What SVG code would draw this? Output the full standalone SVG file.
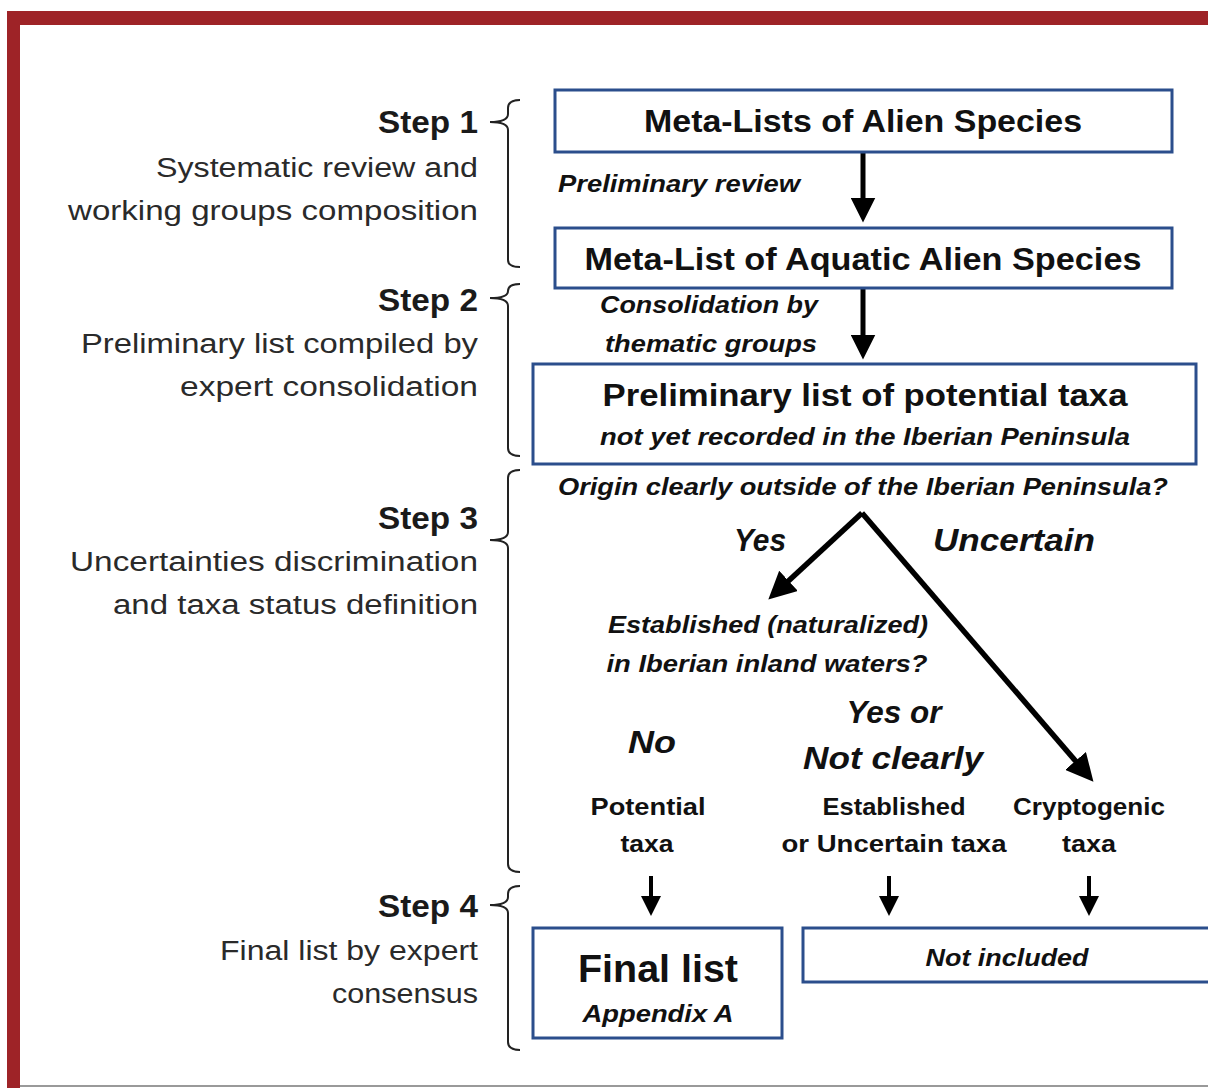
<svg xmlns="http://www.w3.org/2000/svg" width="1208" height="1088" viewBox="0 0 1208 1088">
<style>
text{font-family:"Liberation Sans",Arial,sans-serif;fill:#111}
.step{font-size:32px;font-weight:bold;text-anchor:end;fill:#1a1a1a}
.desc{font-size:27px;text-anchor:end;fill:#2a2a2a}
.box{fill:#fff;stroke:#2b4e8c;stroke-width:3}
.bt{font-size:31px;font-weight:bold;text-anchor:middle}
.it{font-size:23px;font-weight:bold;font-style:italic}
.itc{font-size:23px;font-weight:bold;font-style:italic;text-anchor:middle}
.big{font-size:31px;font-weight:bold;font-style:italic;text-anchor:middle}
.lab{font-size:24px;font-weight:bold;text-anchor:middle}
.brace{fill:none;stroke:#222;stroke-width:2}
.arr{stroke:#000;fill:none;marker-end:url(#ah)}
</style>
<defs>
<marker id="ah" viewBox="0 0 10 10" refX="1" refY="5" markerWidth="5" markerHeight="5" orient="auto" markerUnits="strokeWidth">
<path d="M0,0 L10,5 L0,10 z" fill="#000"/>
</marker>
</defs>
<rect width="1208" height="1088" fill="#fff"/>
<g id="frame">
<rect x="7" y="11" width="1201" height="14" fill="#9e2327"/>
<rect x="7" y="11" width="13" height="1077" fill="#9e2327"/>
<line x1="20" y1="1086" x2="1208" y2="1086" stroke="#999" stroke-width="2"/>
</g>
<g id="steps">
<g id="step1">
<text class="step" x="478" y="133" textLength="100" lengthAdjust="spacingAndGlyphs">Step 1</text>
<text class="desc" x="478" y="177" textLength="322" lengthAdjust="spacingAndGlyphs">Systematic review and</text>
<text class="desc" x="478" y="220" textLength="410" lengthAdjust="spacingAndGlyphs">working groups composition</text>
<path class="brace" d="M520,100 Q508,100 508,108 L508,114 Q508,122 490,122 Q508,122 508,130 L508,260 Q508,267 520,267"/>
</g>
<g id="step2">
<text class="step" x="478" y="311" textLength="100" lengthAdjust="spacingAndGlyphs">Step 2</text>
<text class="desc" x="478" y="353" textLength="397" lengthAdjust="spacingAndGlyphs">Preliminary list compiled by</text>
<text class="desc" x="478" y="396" textLength="298" lengthAdjust="spacingAndGlyphs">expert consolidation</text>
<path class="brace" d="M520,284 Q508,284 508,291 Q508,298 490,298 Q508,298 508,306 L508,448 Q508,456 520,456"/>
</g>
<g id="step3">
<text class="step" x="478" y="529" textLength="100" lengthAdjust="spacingAndGlyphs">Step 3</text>
<text class="desc" x="478" y="571" textLength="408" lengthAdjust="spacingAndGlyphs">Uncertainties discrimination</text>
<text class="desc" x="478" y="614" textLength="365" lengthAdjust="spacingAndGlyphs">and taxa status definition</text>
<path class="brace" d="M520,470 Q508,470 508,478 L508,532 Q508,540 490,540 Q508,540 508,548 L508,864 Q508,872 520,872"/>
</g>
<g id="step4">
<text class="step" x="478" y="917" textLength="100" lengthAdjust="spacingAndGlyphs">Step 4</text>
<text class="desc" x="478" y="960" textLength="258" lengthAdjust="spacingAndGlyphs">Final list by expert</text>
<text class="desc" x="478" y="1003" textLength="146" lengthAdjust="spacingAndGlyphs">consensus</text>
<path class="brace" d="M520,886 Q508,886 508,894 L508,897 Q508,905 490,905 Q508,905 508,913 L508,1042 Q508,1050 520,1050"/>
</g>
</g>
<g id="connectors">
<line class="arr" x1="863" y1="152" x2="863" y2="200" stroke-width="5"/>
<line class="arr" x1="863" y1="288" x2="863" y2="337" stroke-width="5"/>
<line class="arr" x1="862" y1="513" x2="786.5" y2="582.7" stroke-width="5.5"/>
<line class="arr" x1="862" y1="513" x2="1077.3" y2="763" stroke-width="5.5"/>
<line class="arr" x1="651" y1="876" x2="651" y2="898" stroke-width="4"/>
<line class="arr" x1="889" y1="876" x2="889" y2="898" stroke-width="4"/>
<line class="arr" x1="1089" y1="876" x2="1089" y2="898" stroke-width="4"/>
</g>
<g id="n-metalists">
<rect class="box" x="555" y="90" width="617" height="62"/>
<text class="bt" x="863" y="132" textLength="438" lengthAdjust="spacingAndGlyphs">Meta-Lists of Alien Species</text>
</g>
<g id="l-prelim-review">
<text class="it" x="558" y="192" textLength="242" lengthAdjust="spacingAndGlyphs">Preliminary  review</text>
</g>
<g id="n-metalist-aquatic">
<rect class="box" x="555" y="228" width="617" height="60"/>
<text class="bt" x="863" y="270" textLength="557" lengthAdjust="spacingAndGlyphs">Meta-List of Aquatic Alien Species</text>
</g>
<g id="l-consolidation">
<text class="itc" x="709" y="313" textLength="218" lengthAdjust="spacingAndGlyphs">Consolidation  by</text>
<text class="itc" x="711" y="352" textLength="212" lengthAdjust="spacingAndGlyphs">thematic  groups</text>
</g>
<g id="n-preliminary-list">
<rect class="box" x="533" y="364" width="663" height="100"/>
<text class="bt" x="865" y="406" textLength="525" lengthAdjust="spacingAndGlyphs">Preliminary list of potential taxa</text>
<text class="itc" x="865" y="445" textLength="530" lengthAdjust="spacingAndGlyphs">not yet recorded  in the Iberian  Peninsula</text>
</g>
<g id="q-origin">
<text class="itc" x="863" y="495" textLength="610" lengthAdjust="spacingAndGlyphs">Origin  clearly  outside  of the  Iberian  Peninsula?</text>
<text class="big" x="760" y="551" textLength="52" lengthAdjust="spacingAndGlyphs">Yes</text>
<text class="big" x="1014" y="551" textLength="162" lengthAdjust="spacingAndGlyphs">Uncertain</text>
</g>
<g id="q-established">
<text class="itc" x="768" y="633" textLength="320" lengthAdjust="spacingAndGlyphs">Established  (naturalized)</text>
<text class="itc" x="767" y="672" textLength="321" lengthAdjust="spacingAndGlyphs">in Iberian  inland waters?</text>
<text class="big" x="652" y="753" textLength="48" lengthAdjust="spacingAndGlyphs">No</text>
<text class="big" x="894" y="723" textLength="95" lengthAdjust="spacingAndGlyphs">Yes or</text>
<text class="big" x="893" y="769" textLength="180" lengthAdjust="spacingAndGlyphs">Not clearly</text>
</g>
<g id="n-potential">
<text class="lab" x="648" y="815" textLength="115" lengthAdjust="spacingAndGlyphs">Potential</text>
<text class="lab" x="647" y="852" textLength="53" lengthAdjust="spacingAndGlyphs">taxa</text>
</g>
<g id="n-established">
<text class="lab" x="894" y="815" textLength="143" lengthAdjust="spacingAndGlyphs">Established</text>
<text class="lab" x="894" y="852" textLength="225" lengthAdjust="spacingAndGlyphs">or Uncertain taxa</text>
</g>
<g id="n-cryptogenic">
<text class="lab" x="1089" y="815" textLength="152" lengthAdjust="spacingAndGlyphs">Cryptogenic</text>
<text class="lab" x="1089" y="852" textLength="54" lengthAdjust="spacingAndGlyphs">taxa</text>
</g>
<g id="n-final-list">
<rect class="box" x="533" y="928" width="249" height="110"/>
<text class="bt" x="658" y="982" style="font-size:38px" textLength="160" lengthAdjust="spacingAndGlyphs">Final list</text>
<text class="itc" x="658" y="1022" textLength="151" lengthAdjust="spacingAndGlyphs">Appendix A</text>
</g>
<g id="n-not-included">
<rect class="box" x="803" y="928" width="420" height="54"/>
<text class="itc" x="1007" y="966" textLength="163" lengthAdjust="spacingAndGlyphs">Not included</text>
</g>
</svg>
